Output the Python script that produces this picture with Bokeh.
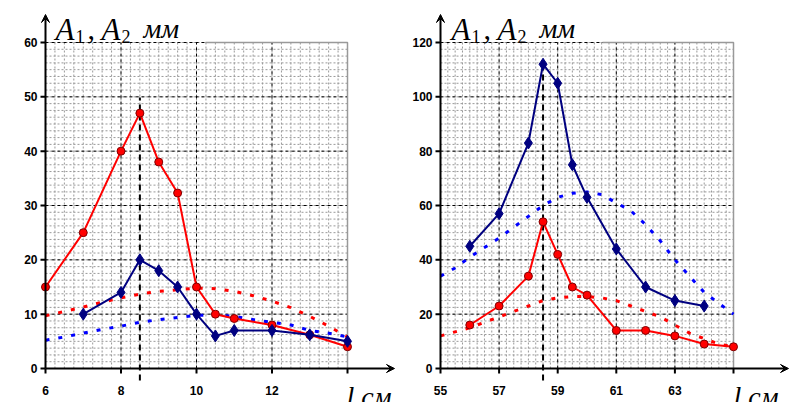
import numpy as np
from bokeh.plotting import figure
from bokeh.layouts import row
from bokeh.models import Range1d, Arrow, VeeHead
from bokeh.core.properties import value
from bokeh.embed import file_html
from bokeh.resources import INLINE

# ---- left chart data ----
L_red_x = [6, 7, 8, 8.5, 9, 9.5, 10, 10.5, 11, 12, 13, 14]
L_red_y = [15, 25, 40, 47, 38, 32.3, 15, 10, 9.2, 8, 6.2, 4]
L_blue_x = [7, 8, 8.5, 9, 9.5, 10, 10.5, 11, 12, 13, 14]
L_blue_y = [10, 14, 20, 18, 15, 10, 6, 7, 7, 6.2, 5]
L_dash_x = [6, 6.5, 7, 7.5, 8, 8.5, 9, 9.5, 10, 10.5, 11, 11.5, 12, 12.5, 13, 13.5, 14]
L_red_dash = [9.7, 10.5, 11.3, 12.2, 13, 13.7, 14.2, 14.5, 14.8, 14.7, 14.2, 13.4, 12.4, 11.2, 9.6, 7.8, 5.8]
L_blue_dash = [5.2, 5.8, 6.5, 7.2, 7.8, 8.5, 9, 9.4, 9.8, 9.8, 9.6, 9, 8.5, 8, 7, 6.5, 5.8]
L_xticks = [6, 8, 10, 12]
L_yticks = [0, 10, 20, 30, 40, 50, 60]

# ---- right chart data ----
R_blue_x = [56, 57, 58, 58.5, 59, 59.5, 60, 61, 62, 63, 64]
R_blue_y = [45, 57, 83, 112, 105, 75, 63, 44, 30, 25, 23]
R_red_x = [56, 57, 58, 58.5, 59, 59.5, 60, 61, 62, 63, 64, 65]
R_red_y = [16, 23, 34, 54, 42, 30, 27, 14, 14, 12, 9, 8]
R_dash_x = [55, 55.5, 56, 56.5, 57, 57.5, 58, 58.5, 59, 59.5, 60, 60.5, 61, 61.5, 62, 62.5, 63, 63.5, 64, 64.5, 65]
R_blue_dash = [34, 37, 41, 44.5, 48, 52, 56, 60, 63, 64.5, 65, 64, 61, 58, 53, 47, 40, 34, 28, 24, 20]
R_red_dash = [12, 13.5, 15, 17, 19, 21, 23, 25, 26, 26.5, 26.5, 26, 25, 23, 21, 19, 16, 13, 11, 9, 8]
R_xticks = [55, 57, 59, 61, 63]
R_yticks = [0, 20, 40, 60, 80, 100, 120]

RED = "#ff0000"
NAVY = "#000080"
BLUE = "#0000ff"


def make(cfg):
    x0, x1, xs = cfg["x0"], cfg["x1"], cfg["xs"]
    y1top, ys = cfg["ytop"], cfg["ys"]
    pxl, pyb = cfg["px0"], 368
    W, H = 395, 402
    page_left = cfg["page_left"]
    X = lambda px: x0 + (px - pxl) / xs
    Y = lambda py: (pyb - py) / ys
    p = figure(width=W, height=H, output_backend="svg", toolbar_location=None,
               x_range=Range1d(X(page_left), X(page_left + W)),
               y_range=Range1d(Y(H), Y(0)), min_border=0)
    p.axis.visible = False
    p.grid.visible = False
    p.outline_line_color = None
    for gx in np.arange(x0, x1 + 1e-9, cfg["mx"]):
        p.segment(gx, 0, gx, y1top, line_color="#999999", line_width=1, line_dash="2 2")
    for gy in np.arange(0, y1top + 1e-9, cfg["my"]):
        p.segment(x0, gy, x1, gy, line_color="#999999", line_width=1, line_dash="2 2")
    for gx in cfg["xmaj"]:
        p.segment(gx, 0, gx, y1top, line_color="black", line_width=1, line_dash="3 3")
    for gy in cfg["yticks"][1:]:
        p.segment(x0, gy, x1, gy, line_color="black", line_width=1, line_dash="3 3")
    p.line([X(cfg["border_start"]), x1, x1], [y1top, y1top, 0], line_color="#999999", line_width=1.5)
    p.add_layout(Arrow(end=VeeHead(size=8, line_color="black", fill_color="black"),
                       x_start=x0, y_start=0, x_end=X(cfg["xarrow"]), y_end=0, line_width=2))
    p.add_layout(Arrow(end=VeeHead(size=8, line_color="black", fill_color="black"),
                       x_start=x0, y_start=0, x_end=x0, y_end=Y(14), line_width=2))
    for t in cfg["yticks"]:
        p.segment(X(pxl - 5), t, x0, t, line_color="black", line_width=2)
    for t in cfg["xall"]:
        p.segment(t, 0, t, Y(pyb + 5), line_color="black", line_width=2)
    p.text(x=[X(pxl - 8)] * len(cfg["yticks"]), y=cfg["yticks"], text=[str(t) for t in cfg["yticks"]],
           text_align="right", text_baseline="middle", text_font=value("Liberation Sans"),
           text_font_style="bold", text_font_size="12px")
    p.text(x=cfg["xticks"], y=[Y(390)] * len(cfg["xticks"]), text=[str(t) for t in cfg["xticks"]],
           text_align="center", text_baseline="middle", text_font=value("Liberation Sans"),
           text_font_style="bold", text_font_size="12px")
    p.segment(cfg["res"], Y(380), cfg["res"], Y(cfg["res_top"]), line_color="black", line_width=2, line_dash="6 4")
    for sx, sy, c in cfg["dashed"]:
        p.line(sx, sy, line_color=c, line_width=3, line_dash="4 9")
    for sx, sy, c, m in cfg["solid"]:
        p.line(sx, sy, line_color=c, line_width=2)
        if m == "circle":
            p.scatter(sx, sy, marker="circle", size=8, fill_color=RED, line_color="#800000")
        else:
            p.scatter(sx, sy, marker="diamond", size=12, fill_color=NAVY, line_color=NAVY)
    tx = cfg["title_px"]
    serif = value("Liberation Serif")
    p.text(x=[X(tx), X(tx + 46)], y=[Y(29)] * 2, text=["A", "A"], text_font=serif,
           text_font_style="italic", text_font_size="31px", text_baseline="alphabetic")
    p.text(x=[X(tx + 20), X(tx + 66)], y=[Y(36)] * 2, text=["1", "2"], text_font=serif,
           text_font_size="18px", text_baseline="alphabetic")
    p.text(x=[X(tx + 32)], y=[Y(29)], text=[","], text_font=serif, text_font_size="30px",
           text_baseline="alphabetic")
    p.text(x=[X(tx + 88)], y=[Y(28)], text=["мм"], text_font=serif, text_font_style="italic",
           text_font_size="28px", text_baseline="alphabetic")
    p.text(x=[X(cfg["l_px"])], y=[Y(396)], text=["l,см"], text_font=serif, text_font_style="italic",
           text_font_size="28px", text_baseline="alphabetic")
    return p


left = make(dict(x0=6, x1=14, xs=37.75, ytop=60, ys=326 / 60, px0=45, page_left=0,
                 mx=0.25, my=1.25, xmaj=[8, 10, 12], yticks=L_yticks, xticks=L_xticks,
                 xall=[6, 8, 10, 12, 14], border_start=205, xarrow=394, res=8.5, res_top=97,
                 dashed=[(L_dash_x, L_red_dash, RED), (L_dash_x, L_blue_dash, BLUE)],
                 solid=[(L_red_x, L_red_y, RED, "circle"), (L_blue_x, L_blue_y, NAVY, "diamond")],
                 title_px=55, l_px=346))
right = make(dict(x0=55, x1=65, xs=29.3, ytop=120, ys=326 / 120, px0=440, page_left=395,
                  mx=0.25, my=2.5, xmaj=[57, 59, 61, 63], yticks=R_yticks, xticks=R_xticks,
                  xall=[55, 57, 59, 61, 63, 65], border_start=602, xarrow=788, res=58.5, res_top=62,
                  dashed=[(R_dash_x, R_red_dash, RED), (R_dash_x, R_blue_dash, BLUE)],
                  solid=[(R_blue_x, R_blue_y, NAVY, "diamond"), (R_red_x, R_red_y, RED, "circle")],
                  title_px=451, l_px=733))

layout = row(left, right, spacing=0)
open("out.html", "w").write(file_html(layout, INLINE))
